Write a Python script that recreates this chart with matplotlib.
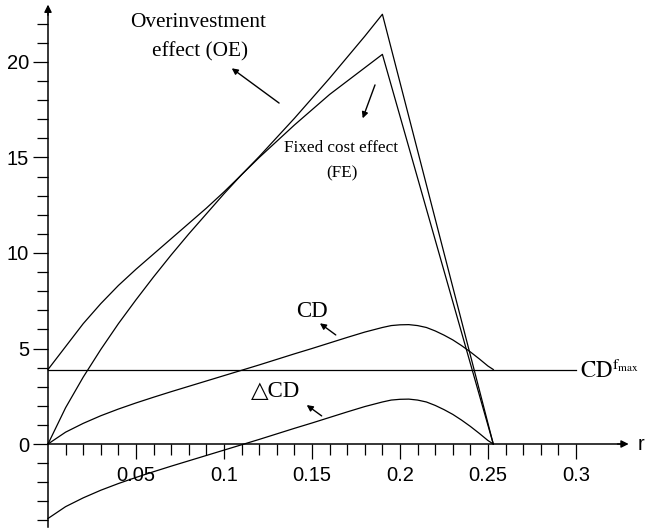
import matplotlib
matplotlib.use("Agg")
import matplotlib.pyplot as plt
import numpy as np
from matplotlib.ticker import FixedLocator

# ---- data -------------------------------------------------------------
r_effect = [0.00, 0.01, 0.02, 0.03, 0.04, 0.05, 0.06, 0.07, 0.08, 0.09, 0.10,
            0.11, 0.12, 0.13, 0.14, 0.15, 0.16, 0.17, 0.18, 0.19, 0.253]
oe = [3.9, 5.1, 6.3, 7.35, 8.3, 9.15, 9.95, 10.75, 11.55, 12.35, 13.2,
      14.1, 15.05, 16.05, 17.05, 18.1, 19.15, 20.25, 21.35, 22.5, 0.0]
fe = [0.0, 1.9, 3.5, 4.95, 6.3, 7.55, 8.75, 9.9, 11.0, 12.05, 13.1,
      14.1, 15.0, 15.85, 16.7, 17.5, 18.3, 19.0, 19.7, 20.4, 0.0]

r_cd = [0.00, 0.01, 0.02, 0.03, 0.04, 0.05, 0.06, 0.07, 0.08, 0.09, 0.10,
        0.11, 0.12, 0.13, 0.14, 0.15, 0.16, 0.17, 0.18, 0.19, 0.195, 0.20,
        0.205, 0.21, 0.215, 0.22, 0.225, 0.23, 0.235, 0.24, 0.245, 0.25, 0.253]
cd = [0.0, 0.62, 1.08, 1.48, 1.83, 2.15, 2.45, 2.74, 3.02, 3.30, 3.58,
      3.86, 4.14, 4.43, 4.72, 5.00, 5.29, 5.58, 5.86, 6.10, 6.20, 6.24,
      6.25, 6.20, 6.10, 5.92, 5.70, 5.45, 5.15, 4.82, 4.46, 4.08, 3.90]
cd_f_max = 3.9
cd_f_max_span = [0.0, 0.30]

x_major = [0.05, 0.10, 0.15, 0.20, 0.25, 0.30]
x_major_labels = ["0.05", "0.1", "0.15", "0.2", "0.25", "0.3"]
y_major = [0, 5, 10, 15, 20]
y_major_labels = ["0", "5", "10", "15", "20"]

# ---- figure -----------------------------------------------------------
plt.rcParams["mathtext.fontset"] = "stix"
serif = ["Liberation Serif", "DejaVu Serif"]
sans = ["Liberation Sans", "DejaVu Sans"]

fig = plt.figure(figsize=(6.45, 5.30), dpi=100)
ax = fig.add_axes([0, 0, 1, 1])
ax.set_xlim(-48 / 1760, 597 / 1760)
ax.set_ylim(-86 / 19.1, 444 / 19.1)

lw = 0.9
ax.plot(r_effect, oe, color="black", lw=lw)
ax.plot(r_effect, fe, color="black", lw=lw)
ax.plot(r_cd, cd, color="black", lw=lw)
delta_cd = np.array(cd) - cd_f_max
ax.plot(r_cd, delta_cd, color="black", lw=lw)
ax.plot(cd_f_max_span, [cd_f_max, cd_f_max], color="black", lw=lw)

# axes through the origin
for side in ("top", "right"):
    ax.spines[side].set_visible(False)
ax.spines["left"].set_position(("data", 0))
ax.spines["bottom"].set_position(("data", 0))
ax.spines["left"].set_bounds(-4.35, 22.9)
ax.spines["bottom"].set_bounds(0, 0.328)
for side in ("left", "bottom"):
    ax.spines[side].set_linewidth(1.1)

head = dict(arrowstyle="-|>", color="black", lw=1.0, mutation_scale=11)
ax.annotate("", xy=(0, 23.15), xytext=(0, 22.3), arrowprops=head)
ax.annotate("", xy=(0.3315, 0), xytext=(0.322, 0), arrowprops=head)

ax.xaxis.set_major_locator(FixedLocator(x_major))
ax.set_xticklabels(x_major_labels)
ax.xaxis.set_minor_locator(FixedLocator(np.round(np.arange(0.01, 0.301, 0.01), 3)))
ax.yaxis.set_major_locator(FixedLocator(y_major))
ax.set_yticklabels(y_major_labels)
ax.yaxis.set_minor_locator(FixedLocator(list(range(-4, 23))))

ax.tick_params(which="major", length=11, width=0.9, direction="out")
ax.tick_params(which="minor", length=8, width=0.9, direction="out")
ax.tick_params(axis="x", which="major", pad=5)
ax.tick_params(axis="y", which="major", pad=2.5)
for lab in ax.get_xticklabels() + ax.get_yticklabels():
    lab.set_fontfamily(sans)
    lab.set_fontsize(14.5)

ax.text(0.3352, 0, "r", family=sans, fontsize=14.5, ha="left", va="center")

# annotations
ax.text(0.0852, 22.09, "Overinvestment", family=serif, fontsize=15.3,
        ha="center", va="center")
ax.text(0.0864, 20.52, "effect (OE)", family=serif, fontsize=15.3,
        ha="center", va="center")
ax.text(0.1665, 15.50, "Fixed cost effect", family=serif, fontsize=12.3,
        ha="center", va="center")
ax.text(0.167, 14.19, "(FE)", family=serif, fontsize=12.3,
        ha="center", va="center")
ax.text(0.150, 6.93, "CD", family=serif, fontsize=16.5,
        ha="center", va="center")
ax.text(0.1295, 2.74, "\u25b3CD", family=serif, fontsize=16.5,
        ha="center", va="center")
ax.text(0.3023, 3.46, r"$\mathrm{CD}^{\mathrm{f}_{\mathrm{max}}}$",
        fontsize=16.5, ha="left", va="baseline")

arrow = dict(arrowstyle="-|>", color="black", lw=1.0, mutation_scale=9,
             shrinkA=0, shrinkB=0)
ax.annotate("", xy=(0.1044, 19.67), xytext=(0.1313, 17.85), arrowprops=arrow)
ax.annotate("", xy=(0.1788, 17.05), xytext=(0.1858, 18.80), arrowprops=arrow)
ax.annotate("", xy=(0.1545, 6.32), xytext=(0.1635, 5.71), arrowprops=arrow)
ax.annotate("", xy=(0.1470, 2.04), xytext=(0.1555, 1.47), arrowprops=arrow)

fig.savefig("out.png", dpi=100)
